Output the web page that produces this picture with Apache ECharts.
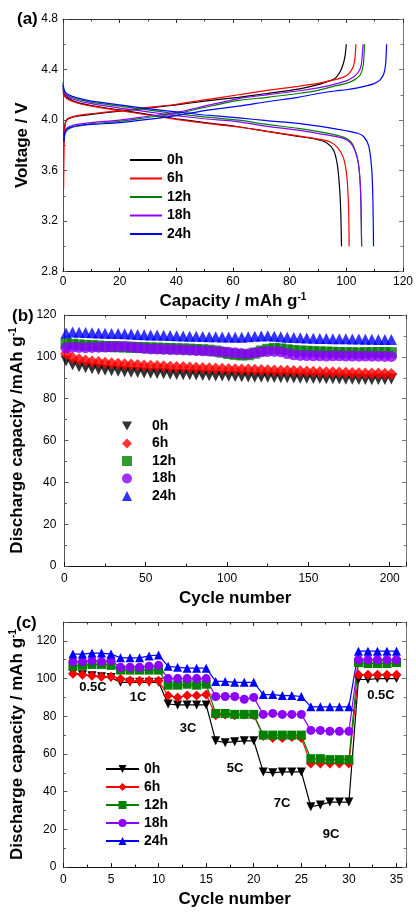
<!DOCTYPE html>
<html>
<head>
<meta charset="utf-8">
<script src="https://cdn.jsdelivr.net/npm/echarts@6/dist/echarts.min.js"></script>
<style>
  body { margin: 0; background: #fff; width: 416px; height: 913px; position: relative; overflow: hidden; }
  .p { position: absolute; left: 0; width: 416px; }
</style>
</head>
<body>
<div id="a" class="p" style="top:0;height:315px"></div>
<div id="b" class="p" style="top:300px;height:312px"></div>
<div id="c" class="p" style="top:605px;height:308px"></div>
<script>
// ---- data ----
const names = ['0h', '6h', '12h', '18h', '24h'];
const colors = ['#000000', '#ff0000', '#008000', '#8b00ff', '#0000ff'];

// (a) charge / discharge curves: [capacity, voltage]
const charge0h = [[0.3,3.82],[0.6,3.95],[1,3.99],[2,4.01],[5,4.03],[10,4.045],[20,4.07],[30,4.095],[40,4.12],[50,4.15],[62,4.18],[72,4.21],[83,4.245],[90,4.28],[94,4.31],[96,4.33],[97.5,4.37],[98.7,4.43],[99.5,4.5],[100,4.6]];
const charge6h = [[0.2,3.45],[0.4,3.8],[0.7,3.96],[1.2,4.0],[2,4.015],[5,4.035],[10,4.05],[20,4.075],[30,4.1],[40,4.125],[50,4.16],[62,4.2],[72,4.235],[83,4.267],[90,4.29],[96,4.32],[99,4.34],[101,4.37],[102.4,4.42],[103,4.48],[103.4,4.6]];
const charge12h = [[0.3,3.82],[0.7,3.89],[1.5,3.92],[3,3.94],[5,3.95],[10,3.97],[20,3.99],[30,4.02],[40,4.05],[50,4.1],[62,4.155],[72,4.18],[83,4.21],[90,4.235],[96,4.27],[100,4.29],[103,4.32],[105,4.36],[106,4.44],[106.4,4.6]];
const charge18h = [[0.3,3.83],[0.7,3.91],[1.5,3.94],[3,3.955],[5,3.965],[10,3.98],[20,4.0],[30,4.03],[40,4.06],[50,4.11],[62,4.17],[72,4.2],[83,4.23],[90,4.255],[96,4.285],[100,4.31],[102.5,4.34],[104.3,4.38],[105.3,4.44],[105.9,4.6]];
const charge24h = [[0.3,3.83],[0.7,3.9],[1.5,3.93],[3,3.945],[5,3.955],[10,3.965],[20,3.98],[30,4.005],[40,4.035],[50,4.075],[62,4.11],[72,4.145],[83,4.18],[90,4.21],[96,4.23],[100,4.24],[104,4.255],[107,4.27],[110,4.29],[112,4.32],[113.3,4.37],[113.9,4.45],[114.2,4.6]];

const discharge0h = [[0,4.25],[0.5,4.2],[2,4.17],[5,4.14],[10,4.115],[20,4.08],[30,4.045],[40,4.01],[50,3.98],[62,3.947],[72,3.91],[83,3.87],[89,3.85],[93,3.82],[95.5,3.76],[96.8,3.65],[97.5,3.5],[98,3.3],[98.3,3.0]];
const discharge6h = [[0,4.22],[0.5,4.19],[2,4.16],[5,4.135],[10,4.11],[20,4.075],[30,4.04],[40,4.005],[50,3.975],[62,3.945],[72,3.91],[83,3.875],[90,3.85],[94,3.83],[97,3.78],[99,3.7],[100.2,3.55],[100.8,3.3],[101,3.0]];
const discharge12h = [[0,4.3],[0.5,4.23],[2,4.19],[5,4.165],[10,4.14],[20,4.11],[30,4.08],[40,4.05],[50,4.025],[62,3.999],[72,3.965],[83,3.934],[93.6,3.895],[99,3.865],[101.5,3.83],[103,3.77],[104.2,3.67],[104.9,3.5],[105.2,3.3],[105.4,3.0]];
const discharge18h = [[0,4.27],[0.5,4.22],[2,4.18],[5,4.155],[10,4.13],[20,4.095],[30,4.065],[40,4.035],[50,4.01],[62,3.986],[72,3.95],[83,3.92],[93.6,3.88],[99,3.855],[101.5,3.82],[103,3.76],[104.2,3.66],[104.9,3.5],[105.2,3.3],[105.4,3.0]];
const discharge24h = [[0,4.28],[0.5,4.23],[2,4.2],[5,4.175],[10,4.15],[20,4.12],[30,4.09],[40,4.065],[50,4.04],[62,4.017],[72,3.995],[83,3.973],[93.6,3.94],[100,3.915],[104,3.895],[106,3.872],[107.5,3.82],[108.3,3.75],[109,3.6],[109.4,3.35],[109.6,3.0]];

const chargeA = [charge0h, charge6h, charge12h, charge18h, charge24h];
const dischargeA = [discharge0h, discharge6h, discharge12h, discharge18h, discharge24h];

// (b) cycling, read every 4 cycles from cycle 1 to 201
const cyclesB = Array.from({ length: 51 }, (_, i) => 1 + 4 * i);
const cyc0h = [98.0,96.2,95.3,94.8,94.3,94.0,93.6,93.3,93.1,92.9,92.7,92.5,92.3,92.2,92.0,91.9,91.7,91.6,91.5,91.4,91.3,91.1,91.0,90.9,90.8,90.7,90.6,90.5,90.4,90.3,90.3,90.2,90.1,90.0,90.0,89.9,89.8,89.8,89.7,89.6,89.5,89.5,89.4,89.3,89.3,89.2,89.2,89.1,89.2,89.2,89.4];
const cyc6h = [101.5,99.6,98.8,98.3,97.8,97.5,97.2,96.9,96.7,96.5,96.3,96.1,95.9,95.8,95.6,95.5,95.3,95.2,95.1,94.9,94.8,94.7,94.5,94.4,94.3,94.2,94.1,94.0,93.9,93.8,93.7,93.6,93.5,93.4,93.3,93.2,93.1,93.0,92.9,92.8,92.7,92.6,92.5,92.4,92.3,92.2,92.1,92.0,92.0,91.9,91.8];
const cyc12h = [106.5,106.0,105.7,105.5,105.4,105.2,105.0,104.9,104.8,104.7,104.6,104.5,104.4,104.3,104.2,104.1,104.0,103.9,103.8,103.7,103.5,103.4,103.2,102.8,102.2,101.6,101.2,100.9,101.0,101.8,102.8,103.6,104.0,103.8,103.4,103.0,102.8,102.7,102.5,102.4,102.3,102.2,102.1,102.0,102.0,101.9,102.0,102.0,102.1,102.1,102.0];
const cyc18h = [104.3,104.6,104.5,104.4,104.5,104.6,104.7,104.8,104.9,105.0,104.6,104.3,104.0,103.8,103.7,103.6,103.5,103.4,103.3,103.2,103.0,102.9,102.8,102.6,102.4,102.2,101.9,101.6,101.5,101.9,102.4,102.6,102.6,102.4,101.6,101.0,100.7,100.6,100.5,100.5,100.4,100.5,100.5,100.4,100.4,100.3,100.4,100.3,100.3,100.2,100.2];
const cyc24h = [111.4,111.9,111.8,111.6,111.5,111.4,111.3,111.2,111.1,111.0,110.9,110.7,110.6,110.5,110.4,110.3,110.2,110.1,110.0,109.9,109.8,109.7,109.6,109.6,109.5,109.5,109.4,109.4,109.6,109.8,110.0,110.1,109.9,109.6,109.4,109.2,109.1,109.0,108.9,108.8,108.8,108.7,108.6,108.6,108.5,108.5,108.4,108.4,108.3,108.3,108.3];
const cycB = [cyc0h, cyc6h, cyc12h, cyc18h, cyc24h];

// (c) rate capability, cycles 1..35
const cyclesC = Array.from({ length: 35 }, (_, i) => i + 1);
const rate0h = [103,102,101.5,101,100.5, 98,98,98,98,98, 86.5,86,86,86,86, 67,66,66.5,67,67, 50.5,50,50.5,50.5,50.5, 32,33,34.5,34.5,34.5, 99.5,99.5,100,100,100];
const rate6h = [102.5,102,101.5,101,101, 99.8,99,98.8,98.8,98.8, 91,90,91,91,91.5, 80.5,81,80.5,81,80.5, 69.5,68.5,68.5,69,68.5, 55,55,55,55,55, 102,102,102,102,102];
const rate12h = [106.5,107,107.5,107.5,107, 104.5,104.5,104.5,104.5,104.5, 96.5,96.5,97,96.5,97, 81.5,81.5,81,81,81, 70,70,70,70,70, 57.5,57.5,57,57,57, 108.5,108,108,108,108.5];
const rate18h = [109,109,109.5,109,109.5, 106,106,106,106.5,107, 100,100,100,100,100, 90.5,90.5,90.5,89,90, 81,81.5,81,81,81, 72.5,72.5,72,72,72, 110,110,110,110,110];
const rate24h = [113,113,113.5,113.5,113, 111,111,111,112,112.5, 106.5,106,105.5,105.5,105.5, 98.5,98.5,98,98,98, 91.5,91.5,91,91,90.5, 85,85,85,85,85, 114.5,114.5,114.5,114.5,114.5];
const rateC = [rate0h, rate6h, rate12h, rate18h, rate24h];
const rateLabels = ['0.5C', '1C', '3C', '5C', '7C', '9C', '0.5C'];

// ---- styles ----
const FONT = 'Liberation Sans, Arial, sans-serif';
const tri = 'path://M0,0 L10,0 L5,9 Z';
const symbols = [tri, 'diamond', 'rect', 'circle', 'triangle'];

function axes(min, max, interval, opts) {
  const o = opts || {};
  const fmt = o.fmt || (v => v);
  return (pos, show, color) => ({
    type: 'value', position: pos, min: min, max: max, interval: interval,
    axisLine: { show: true, onZero: false, lineStyle: { color: color, width: 1 } },
    axisTick: { show: true, inside: true, length: 4, lineStyle: { color: color } },
    minorTick: { show: true, splitNumber: 2, length: 2.5, lineStyle: { color: color } },
    splitLine: { show: false },
    axisLabel: { show: show, color: '#000', fontSize: 12, fontFamily: FONT, margin: o.margin || 6, formatter: fmt }
  });
}

function nameStyle() {
  return {
    color: '#000', fontSize: 17, fontWeight: 'bold', fontFamily: FONT,
    rich: { sup: { fontSize: 10, fontWeight: 'bold', fontFamily: FONT, verticalAlign: 'top', padding: [0, 0, 8, 0] } }
  };
}

const legendText = { color: '#000', fontSize: 14, fontWeight: 'bold', fontFamily: FONT };

// ---- (a) ----
const chA = echarts.init(document.getElementById('a'));
const seriesA = [];
names.forEach((n, i) => {
  [chargeA[i], dischargeA[i]].forEach(d => {
    seriesA.push({
      name: n, type: 'line', data: d, symbol: 'none', smooth: 0.25,
      lineStyle: { color: colors[i], width: 1.2 }, itemStyle: { color: colors[i] }
    });
  });
});
const xA = axes(0, 120, 20, { margin: 4 });
const yA = axes(2.8, 4.8, 0.4, { margin: 5, fmt: v => v.toFixed(1) });
chA.setOption({
  animation: false,
  grid: { left: 63, right: 9, top: 19, height: 256 },
  xAxis: [
    Object.assign(xA('bottom', true, '#111'), { name: 'Capacity / mAh g{sup|-1}', nameLocation: 'middle', nameGap: 20, nameTextStyle: nameStyle() }),
    xA('top', false, '#333')
  ],
  yAxis: [
    Object.assign(yA('left', true, '#555'), { name: 'Voltage / V', nameLocation: 'middle', nameGap: 27, nameTextStyle: nameStyle() }),
    yA('right', false, '#777')
  ],
  legend: {
    data: names, orient: 'vertical', left: 125, top: 148, icon: 'rect', itemWidth: 32, itemHeight: 2, itemGap: 4.5,
    textStyle: legendText
  },
  graphic: [{ type: 'text', left: 17, top: 11, style: { text: '(a)', fontSize: 17, fontWeight: 'bold', fontFamily: FONT, fill: '#000' } }],
  series: seriesA
});

// ---- (b) ----
const chB = echarts.init(document.getElementById('b'));
const xB = axes(0, 210, 50, { margin: 7, fmt: v => (v % 50 === 0 ? v : '') });
const yB = axes(0, 120, 20, { margin: 8 });
chB.setOption({
  animation: false,
  grid: { left: 61, right: 10, top: 15, height: 258 },
  xAxis: [
    Object.assign(xB('bottom', true, '#111'), { name: 'Cycle number', nameLocation: 'middle', nameGap: 22, nameTextStyle: nameStyle() }),
    xB('top', false, '#333')
  ],
  yAxis: [
    Object.assign(yB('left', true, '#555'), { name: 'Discharge capacity /mAh g{sup|-1}', nameLocation: 'middle', nameGap: 31, nameTextStyle: nameStyle() }),
    yB('right', false, '#777')
  ],
  legend: {
    data: names, orient: 'vertical', left: 117, top: 114, itemWidth: 10, itemHeight: 10, itemGap: 3.5,
    textStyle: Object.assign({ padding: [0, 0, 0, 15] }, legendText)
  },
  graphic: [{ type: 'text', left: 12, top: 8, style: { text: '(b)', fontSize: 17, fontWeight: 'bold', fontFamily: FONT, fill: '#000' } }],
  series: names.map((n, i) => ({
    name: n, type: 'scatter', symbol: symbols[i], symbolSize: i === 1 ? 12 : 11,
    itemStyle: { color: colors[i] },
    data: cyclesB.map((c, k) => [c, cycB[i][k]])
  }))
});

// ---- (c) ----
const chC = echarts.init(document.getElementById('c'));
const xC = axes(0, 36, 5, { margin: 7, fmt: v => (v % 5 === 0 ? v : '') });
const yC = axes(0, 130, 20, { margin: 7, fmt: v => (v % 20 === 0 ? v : '') });
const labelPos = [[93, 82], [138, 92], [188, 123], [235, 163], [282, 198], [331, 229], [381, 90]];
chC.setOption({
  animation: false,
  grid: { left: 62, right: 10, top: 17, height: 256 },
  xAxis: [
    Object.assign(xC('bottom', true, '#111'), { name: 'Cycle number', nameLocation: 'middle', nameGap: 19, nameTextStyle: nameStyle() }),
    xC('top', false, '#333')
  ],
  yAxis: [
    Object.assign(yC('left', true, '#555'), { name: 'Discharge capacity / mAh g{sup|-1}', nameLocation: 'middle', nameGap: 29, nameTextStyle: nameStyle() }),
    yC('right', false, '#777')
  ],
  legend: {
    data: names, orient: 'vertical', left: 100, top: 152, itemWidth: 33, itemHeight: 10, itemGap: 4,
    textStyle: legendText
  },
  graphic: [{ type: 'text', left: 16, top: 10, style: { text: '(c)', fontSize: 17, fontWeight: 'bold', fontFamily: FONT, fill: '#000' } }]
    .concat(rateLabels.map((t, k) => ({
      type: 'text', x: labelPos[k][0], y: labelPos[k][1],
      style: { text: t, fontSize: 13, fontWeight: 'bold', fontFamily: FONT, fill: '#000', align: 'center', verticalAlign: 'middle' }
    }))),
  series: names.map((n, i) => ({
    name: n, type: 'line', symbol: symbols[i], symbolSize: i === 1 ? 10 : 9, showAllSymbol: true,
    lineStyle: { color: colors[i], width: 1.2 }, itemStyle: { color: colors[i] },
    data: cyclesC.map((c, k) => [c, rateC[i][k]])
  }))
});
</script>
</body>
</html>
